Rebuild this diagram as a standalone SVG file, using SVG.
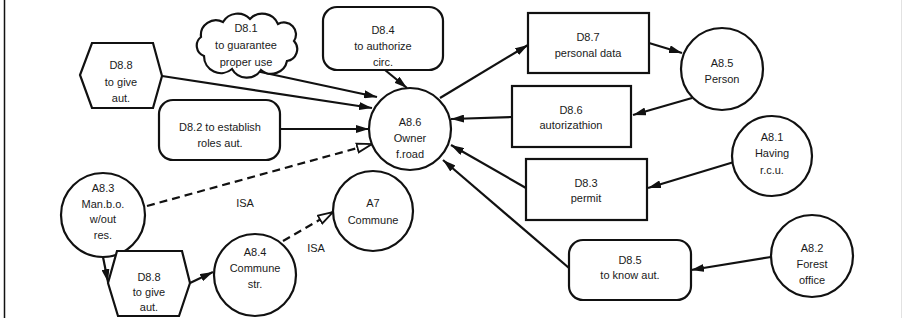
<svg xmlns="http://www.w3.org/2000/svg" width="904" height="322" viewBox="0 0 904 322">
  <style>
    .shape { fill: #fff; stroke: #111; stroke-width: 2.2; }
    .lbl { font-family: "Liberation Sans", Arial, sans-serif; font-size: 11px; fill: #1a1a1a; text-anchor: middle; }
    .flow { fill: none; stroke: #111; stroke-width: 2.2; marker-end: url(#arr); }
    .isa { fill: none; stroke: #111; stroke-width: 2.2; stroke-dasharray: 8 5; marker-end: url(#hollow); }
  </style>
  <defs>
    <marker id="arr" viewBox="0 0 13 8" refX="13" refY="4" markerWidth="13" markerHeight="8" orient="auto" markerUnits="userSpaceOnUse">
      <path d="M0,0 L13,4 L0,8 z" fill="#111"/>
    </marker>
    <marker id="hollow" viewBox="0 0 17 12" refX="16" refY="6" markerWidth="17" markerHeight="12" orient="auto" markerUnits="userSpaceOnUse">
      <path d="M1,1.5 L16,6 L1,10.5 z" fill="#fff" stroke="#111" stroke-width="1.8"/>
    </marker>
  </defs>

  <rect width="904" height="322" fill="#fff"/>
  <!-- frame -->
  <line x1="4.5" y1="0" x2="4.5" y2="318" stroke="#111" stroke-width="1.5"/>
  <line x1="901.5" y1="0" x2="901.5" y2="318" stroke="#e2e2e2" stroke-width="1"/>

  <!-- connectors -->
  <g id="connectors">
    <line class="flow" x1="256" y1="71" x2="377" y2="97"/>
    <line class="flow" x1="162" y1="76" x2="372" y2="108"/>
    <line class="flow" x1="280" y1="129" x2="369" y2="129"/>
    <line class="flow" x1="385" y1="70" x2="407" y2="88"/>
    <line class="flow" x1="440" y1="98" x2="528" y2="45"/>
    <line class="flow" x1="649" y1="43" x2="682" y2="53"/>
    <line class="flow" x1="692" y1="98" x2="633" y2="115"/>
    <line class="flow" x1="512" y1="117" x2="451" y2="119"/>
    <line class="flow" x1="734" y1="162" x2="648" y2="188"/>
    <line class="flow" x1="526" y1="188" x2="451" y2="145"/>
    <line class="flow" x1="569" y1="268" x2="443" y2="160"/>
    <line class="flow" x1="771" y1="257" x2="691" y2="270"/>
    <line class="flow" x1="103" y1="257" x2="108" y2="282"/>
    <line class="flow" x1="190" y1="283" x2="213" y2="272"/>
    <line class="isa" x1="147" y1="206" x2="372" y2="144"/>
    <line class="isa" x1="283" y1="241" x2="333" y2="212"/>
    <text class="lbl" x="245" y="207">ISA</text>
    <text class="lbl" x="316" y="252">ISA</text>
  </g>

  <g id="D8.8-top">
    <polygon class="shape" points="92,43 153,43 162,76 153,108 92,108 80,75"/>
    <text class="lbl" x="121" y="69">D8.8</text>
    <text class="lbl" x="121" y="86">to give</text>
    <text class="lbl" x="121" y="102">aut.</text>
  </g>

  <g id="D8.1">
    <path class="shape" d="M204,56 A11,11 0 0 1 201,37 A15,15 0 0 1 223,22 A17,17 0 0 1 250,19 A17,17 0 0 1 278,24 A12,12 0 0 1 294,41 A12,12 0 0 1 287,61 A16,16 0 0 1 261,70 A17,17 0 0 1 232,69 A17,17 0 0 1 204,56 z"/>
    <text class="lbl" x="246" y="32">D8.1</text>
    <text class="lbl" x="246" y="49">to guarantee</text>
    <text class="lbl" x="246" y="66">proper use</text>
  </g>

  <g id="D8.2">
    <rect class="shape" x="159" y="100" width="121" height="60" rx="14"/>
    <text class="lbl" x="220" y="131">D8.2 to establish</text>
    <text class="lbl" x="220" y="147">roles aut.</text>
  </g>

  <g id="D8.4">
    <rect class="shape" x="323" y="7" width="120" height="63" rx="14"/>
    <text class="lbl" x="383" y="34">D8.4</text>
    <text class="lbl" x="383" y="50">to authorize</text>
    <text class="lbl" x="383" y="66">circ.</text>
  </g>

  <g id="A8.6">
    <circle class="shape" cx="410" cy="129" r="41"/>
    <text class="lbl" x="410" y="126">A8.6</text>
    <text class="lbl" x="410" y="142">Owner</text>
    <text class="lbl" x="410" y="158">f.road</text>
  </g>

  <g id="D8.7">
    <rect class="shape" x="528" y="13" width="121" height="60"/>
    <text class="lbl" x="588" y="41">D8.7</text>
    <text class="lbl" x="588" y="57">personal data</text>
  </g>

  <g id="A8.5">
    <circle class="shape" cx="722" cy="69" r="41"/>
    <text class="lbl" x="722" y="67">A8.5</text>
    <text class="lbl" x="722" y="83">Person</text>
  </g>

  <g id="D8.6">
    <rect class="shape" x="512" y="86" width="119" height="61"/>
    <text class="lbl" x="571" y="114">D8.6</text>
    <text class="lbl" x="571" y="129">autorizathion</text>
  </g>

  <g id="D8.3">
    <rect class="shape" x="526" y="159" width="121" height="61"/>
    <text class="lbl" x="586" y="187">D8.3</text>
    <text class="lbl" x="586" y="202">permit</text>
  </g>

  <g id="A8.1">
    <circle class="shape" cx="772" cy="156" r="40"/>
    <text class="lbl" x="772" y="141">A8.1</text>
    <text class="lbl" x="772" y="157">Having</text>
    <text class="lbl" x="772" y="174">r.c.u.</text>
  </g>

  <g id="D8.5">
    <rect class="shape" x="569" y="240" width="122" height="60" rx="14"/>
    <text class="lbl" x="630" y="264">D8.5</text>
    <text class="lbl" x="630" y="279">to know aut.</text>
  </g>

  <g id="A8.2">
    <circle class="shape" cx="812" cy="256" r="41"/>
    <text class="lbl" x="812" y="252">A8.2</text>
    <text class="lbl" x="812" y="268">Forest</text>
    <text class="lbl" x="812" y="284">office</text>
  </g>

  <g id="A8.3">
    <circle class="shape" cx="103" cy="215" r="42"/>
    <text class="lbl" x="103" y="192">A8.3</text>
    <text class="lbl" x="103" y="208">Man.b.o.</text>
    <text class="lbl" x="103" y="223">w/out</text>
    <text class="lbl" x="103" y="239">res.</text>
  </g>

  <g id="D8.8-bottom">
    <polygon class="shape" points="117,251 182,251 190,283 179,316 118,316 108,283"/>
    <text class="lbl" x="149" y="281">D8.8</text>
    <text class="lbl" x="149" y="296">to give</text>
    <text class="lbl" x="149" y="311">aut.</text>
  </g>

  <g id="A8.4">
    <circle class="shape" cx="255" cy="275" r="41"/>
    <text class="lbl" x="255" y="256">A8.4</text>
    <text class="lbl" x="255" y="272">Commune</text>
    <text class="lbl" x="255" y="288">str.</text>
  </g>

  <g id="A7">
    <circle class="shape" cx="373" cy="211" r="40"/>
    <text class="lbl" x="373" y="207">A7</text>
    <text class="lbl" x="373" y="224">Commune</text>
  </g>
</svg>
